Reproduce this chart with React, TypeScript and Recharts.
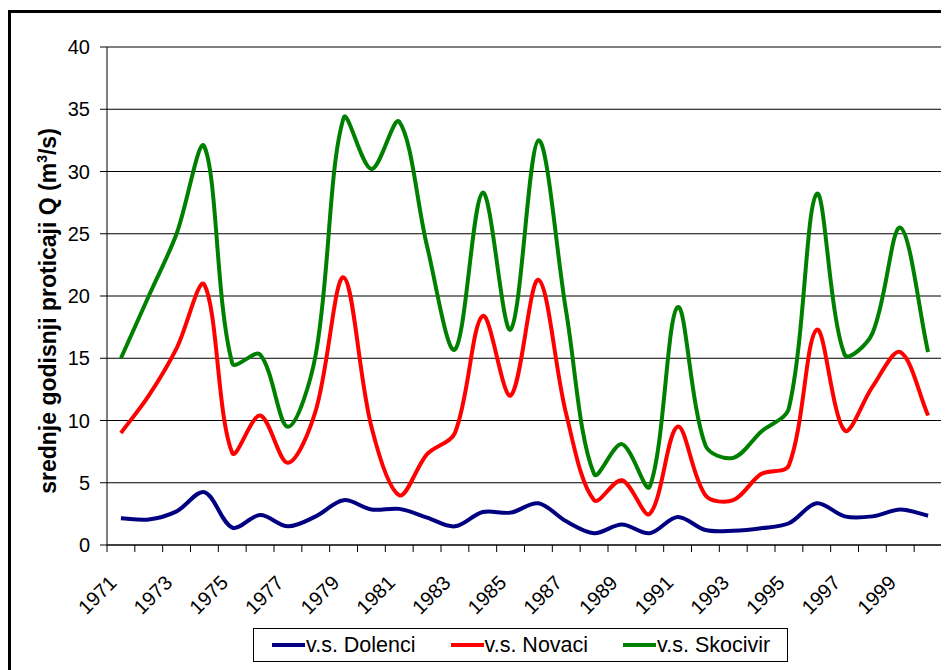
import React from "react";
import { LineChart, Line, XAxis, YAxis, CartesianGrid } from "recharts";

const years = [
  "1971", "1972", "1973", "1974", "1975", "1976", "1977", "1978", "1979", "1980",
  "1981", "1982", "1983", "1984", "1985", "1986", "1987", "1988", "1989", "1990",
  "1991", "1992", "1993", "1994", "1995", "1996", "1997", "1998", "1999", "2000",
];

const dolenci = [
  2.15, 2.05, 2.7, 4.25, 1.4, 2.4, 1.5, 2.3, 3.6, 2.85,
  2.9, 2.2, 1.5, 2.65, 2.6, 3.35, 1.9, 0.95, 1.65, 0.95,
  2.25, 1.2, 1.15, 1.35, 1.75, 3.35, 2.3, 2.3, 2.85, 2.35,
];

const novaci = [
  9.0, 12.0, 15.8, 20.9, 7.4, 10.4, 6.6, 10.8, 21.5, 9.5,
  4.0, 7.3, 9.0, 18.4, 12.0, 21.3, 10.5, 3.6, 5.2, 2.5,
  9.5, 4.0, 3.6, 5.7, 6.4, 17.3, 9.2, 12.7, 15.5, 10.4,
];

const skocivir = [
  15.0, 20.0, 25.0, 32.0, 14.6, 15.3, 9.5, 15.3, 34.3, 30.2,
  34.0, 24.0, 15.7, 28.3, 17.3, 32.5, 18.7, 5.7, 8.1, 4.7,
  19.1, 8.0, 7.0, 9.1, 11.0, 28.2, 15.3, 17.0, 25.5, 15.5,
];

const yTicks = [0, 5, 10, 15, 20, 25, 30, 35, 40];

const series = [
  { key: "dolenci", name: "v.s. Dolenci", color: "#000080" },
  { key: "novaci", name: "v.s. Novaci", color: "#FF0000" },
  { key: "skocivir", name: "v.s. Skocivir", color: "#008000" },
];

const data = years.map((year, i) => ({
  year,
  dolenci: dolenci[i],
  novaci: novaci[i],
  skocivir: skocivir[i],
}));

const FONT = '"Liberation Sans", Arial, sans-serif';
const CHART_W = 940;
const CHART_H = 640;
const MARGIN = { top: 34, right: 9, left: 36, bottom: 8 };
const Y_AXIS_W = 60;
const PLOT_W = CHART_W - MARGIN.left - MARGIN.right - Y_AXIS_W;
const BAND = PLOT_W / years.length;

// excel style smoothing: catmull-rom bezier, tangents weighted by segment length
function excelSmooth(context: any) {
  let pts: number[][] = [];
  const dist = (a: number[], b: number[]) => Math.hypot(b[0] - a[0], b[1] - a[1]);
  return {
    areaStart() {},
    areaEnd() {},
    lineStart() {
      pts = [];
    },
    point(x: number, y: number) {
      pts.push([+x, +y]);
    },
    lineEnd() {
      if (!pts.length) return;
      context.moveTo(pts[0][0], pts[0][1]);
      for (let i = 0; i < pts.length - 1; i++) {
        const p0 = pts[Math.max(i - 1, 0)];
        const p1 = pts[i];
        const p2 = pts[i + 1];
        const p3 = pts[Math.min(i + 2, pts.length - 1)];
        const d01 = dist(p0, p1);
        const d12 = dist(p1, p2);
        const d23 = dist(p2, p3);
        const a = d01 + d12 > 0 ? d12 / (3 * (d01 + d12)) : 0;
        const b = d12 + d23 > 0 ? d12 / (3 * (d12 + d23)) : 0;
        context.bezierCurveTo(
          p1[0] + (p2[0] - p0[0]) * a,
          p1[1] + (p2[1] - p0[1]) * a,
          p2[0] - (p3[0] - p1[0]) * b,
          p2[1] - (p3[1] - p1[1]) * b,
          p2[0],
          p2[1]
        );
      }
    },
  };
}

function YearTick(props: any) {
  const { x, y, payload, index } = props;
  const i = payload?.index ?? index;
  const lx = x - 3;
  const ly = y + 39;
  return (
    <g>
      <line x1={x - BAND / 2} x2={x - BAND / 2} y1={y} y2={y + 7} stroke="#000" />
      {i === years.length - 1 && (
        <line x1={x + BAND / 2} x2={x + BAND / 2} y1={y} y2={y + 7} stroke="#808080" />
      )}
      {i % 2 === 0 && (
        <text
          x={lx}
          y={ly}
          textAnchor="end"
          fontSize={20}
          fontFamily={FONT}
          fill="#000"
          transform={`rotate(-45, ${lx}, ${ly})`}
        >
          {payload.value}
        </text>
      )}
    </g>
  );
}

function YLabel() {
  return (
    <text
      x={45}
      y={298}
      textAnchor="middle"
      fontSize={23}
      fontWeight="bold"
      fontFamily={FONT}
      fill="#000"
      transform="rotate(-90, 45, 298)"
    >
      srednje godisnji proticaji Q (m
      <tspan fontSize={14} dy={-9}>3</tspan>
      <tspan dy={9}>/s)</tspan>
    </text>
  );
}

export default function App() {
  return (
    <div
      style={{
        position: "relative",
        marginTop: 2,
        width: 960,
        height: 680,
        border: "3px solid #000",
        background: "#fff",
        fontFamily: FONT,
      }}
    >
      <style>{`html,body{overflow:hidden;}`}</style>
      <LineChart width={CHART_W} height={CHART_H} data={data} margin={MARGIN}>
        <CartesianGrid vertical={false} stroke="#000" strokeWidth={1} />
        <XAxis
          dataKey="year"
          interval={0}
          padding={{ left: BAND / 2, right: BAND / 2 }}
          tickLine={false}
          tickSize={0}
          tickMargin={0}
          height={100}
          axisLine={{ stroke: "#000" }}
          tick={<YearTick />}
        />
        <YAxis
          domain={[0, 40]}
          ticks={yTicks}
          width={Y_AXIS_W}
          tickSize={7}
          tickMargin={10}
          axisLine={{ stroke: "#000" }}
          tickLine={{ stroke: "#000" }}
          tick={{ fontSize: 20, fill: "#000", fontFamily: FONT }}
          label={{ content: () => <YLabel /> }}
        />
        <YAxis
          yAxisId="right"
          orientation="right"
          domain={[0, 40]}
          width={0}
          tick={false}
          tickLine={false}
          axisLine={{ stroke: "#808080" }}
        />
        {series.map((s) => (
          <Line
            key={s.key}
            dataKey={s.key}
            name={s.name}
            stroke={s.color}
            strokeWidth={4}
            type={excelSmooth as any}
            dot={false}
            activeDot={false}
            isAnimationActive={false}
          />
        ))}
      </LineChart>
      <div
        style={{
          position: "absolute",
          left: 242,
          top: 615,
          width: 535,
          height: 34,
          border: "1px solid #000",
          display: "flex",
          alignItems: "center",
          paddingLeft: 18,
          boxSizing: "border-box",
          fontSize: 21.5,
          color: "#000",
          background: "#fff",
          whiteSpace: "nowrap",
          overflow: "hidden",
        }}
      >
        {series.map((s, i) => (
          <div
            key={s.key}
            style={{
              display: "flex",
              alignItems: "center",
              flexShrink: 0,
              marginRight: i < series.length - 1 ? 35 : 0,
            }}
          >
            <div style={{ width: 33, height: 4, background: s.color, marginRight: 1 }} />
            <span>{s.name}</span>
          </div>
        ))}
      </div>
    </div>
  );
}
